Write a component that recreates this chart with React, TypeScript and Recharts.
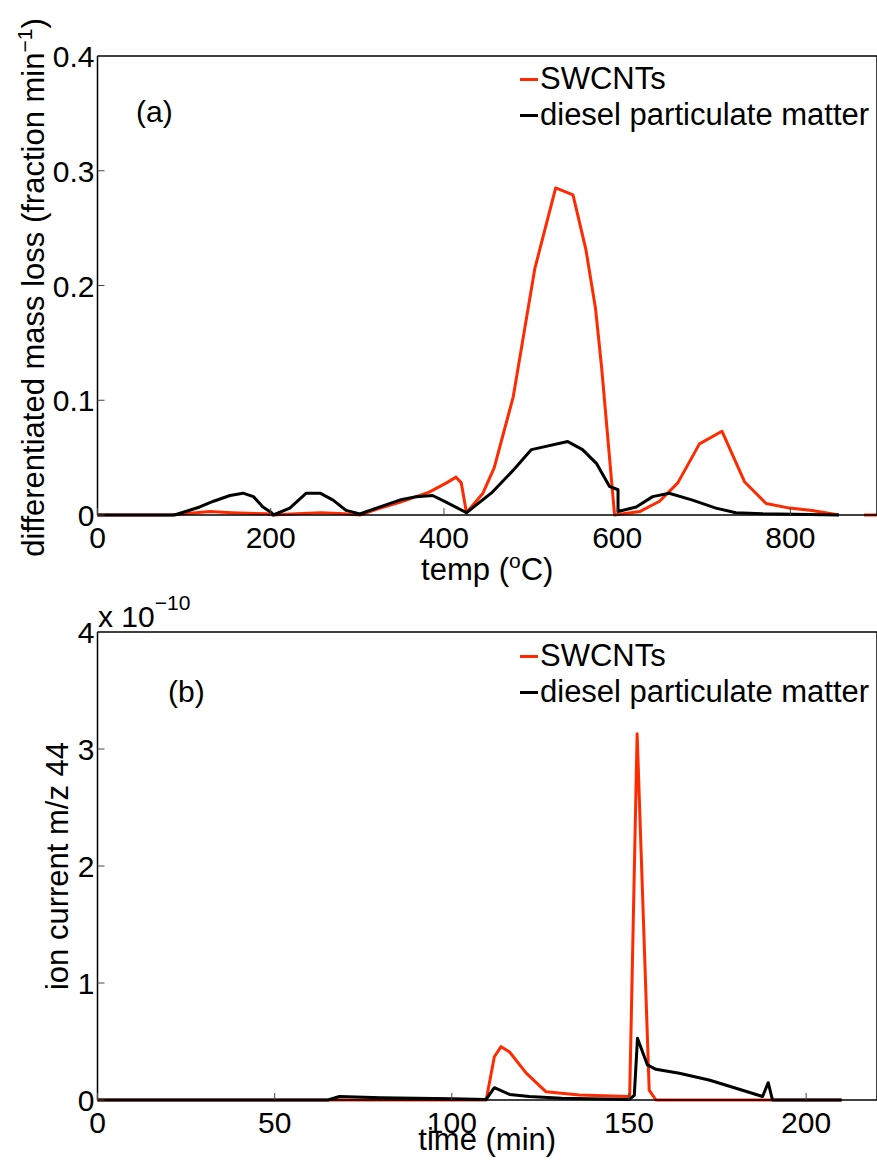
import React from "react";
import { LineChart, Line, XAxis, YAxis, Legend } from "recharts";

// panel (a): differentiated mass loss vs temperature
const tempSwcnt = [0, 85, 100, 130, 155, 195, 203, 230, 258, 285, 303, 322, 349, 368, 383, 403, 414, 420, 426, 445, 458, 480, 505, 529, 549, 564, 575, 582, 597, 626, 649, 670, 695, 721, 747, 772, 799, 825, 856, 870, 885, 900];
const lossSwcnt = [0, 0, 0.001, 0.003, 0.002, 0.001, 0, 0.001, 0.002, 0.001, 0, 0.005, 0.011, 0.016, 0.02, 0.028, 0.033, 0.028, 0.002, 0.019, 0.041, 0.103, 0.215, 0.285, 0.279, 0.231, 0.18, 0.129, 0, 0.003, 0.012, 0.028, 0.062, 0.073, 0.029, 0.01, 0.006, 0.004, 0, null, 0, 0];

const tempDiesel = [0, 83, 89, 118, 134, 153, 168, 180, 191, 201, 203, 222, 241, 257, 272, 287, 303, 322, 349, 368, 387, 403, 426, 456, 480, 501, 543, 560, 576, 591, 601, 601, 622, 641, 660, 687, 714, 737, 768, 856];
const lossDiesel = [0, 0, 0, 0.007, 0.012, 0.017, 0.019, 0.016, 0.007, 0.002, 0, 0.006, 0.019, 0.019, 0.013, 0.004, 0.001, 0.006, 0.013, 0.016, 0.017, 0.011, 0.002, 0.02, 0.039, 0.057, 0.064, 0.057, 0.045, 0.025, 0.022, 0.003, 0.007, 0.016, 0.019, 0.013, 0.006, 0.002, 0.001, 0];

// panel (b): ion current m/z 44 (x 10^-10) vs time
const timeSwcnt = [0, 109.7, 112, 113.9, 116.3, 121, 126.6, 136, 149.6, 150.2, 152.3, 155.7, 157.6, 210];
const ionSwcnt = [0, 0, 0.37, 0.456, 0.41, 0.23, 0.07, 0.043, 0.03, 0.04, 3.13, 0.085, 0, 0];

const timeDiesel = [0, 65, 68.3, 80, 100, 109.7, 112, 116.3, 121.9, 131, 150.1, 151.5, 152.4, 155.2, 157.6, 164.2, 172.6, 180.2, 187.7, 189.3, 190.5, 210];
const ionDiesel = [0, 0, 0.03, 0.02, 0.01, 0.005, 0.105, 0.048, 0.03, 0.015, 0.005, 0.04, 0.527, 0.3, 0.262, 0.228, 0.171, 0.1, 0.03, 0.148, 0, 0];

const tempTicks = [0, 200, 400, 600, 800];
const lossTicks = [0, 0.1, 0.2, 0.3, 0.4];
const timeTicks = [0, 50, 100, 150, 200];
const ionTicks = [0, 1, 2, 3, 4];

const RED = "#ff2a00";
const FONT = "'Liberation Sans', Arial, Helvetica, sans-serif";

const zip = (xs: number[], ys: (number | null)[]) => xs.map((x, i) => ({ x, y: ys[i] }));

const fmtLoss = (v: number) => (v === 0 ? "0" : v.toFixed(1));

function BottomTick({ x, y, payload, fmt }: any) {
  return (
    <g>
      <line x1={x} x2={x} y1={y} y2={y - 7} stroke="#444" />
      <text x={x} y={y + 33} textAnchor="middle" fontSize={30} fontFamily={FONT} fill="#000">
        {fmt ? fmt(payload.value) : payload.value}
      </text>
    </g>
  );
}

function LeftTick({ x, y, payload, fmt }: any) {
  return (
    <g>
      <line x1={x} x2={x + 7} y1={y} y2={y} stroke="#444" />
      <text x={x - 3} y={y + 11} textAnchor="end" fontSize={30} fontFamily={FONT} fill="#000">
        {fmt ? fmt(payload.value) : payload.value}
      </text>
    </g>
  );
}

function TopTick({ x, y }: any) {
  return <line x1={x} x2={x} y1={y} y2={y + 7} stroke="#444" />;
}

function RightTick({ x, y }: any) {
  return <line x1={x} x2={x - 7} y1={y} y2={y} stroke="#444" />;
}

function renderLegend(props: any) {
  const { payload } = props;
  return (
    <div style={{ fontFamily: FONT, fontSize: 31, color: "#000" }}>
      {(payload || []).map((entry: any) => (
        <div key={entry.value} style={{ display: "flex", alignItems: "center", height: 36, whiteSpace: "nowrap" }}>
          <span style={{ display: "inline-block", width: 18, height: 3, background: entry.color, marginRight: 2 }} />
          <span>{entry.value}</span>
        </div>
      ))}
    </div>
  );
}

const axisLine = { stroke: "#000", strokeWidth: 1.5 };

export default function App() {
  const topRed = zip(tempSwcnt, lossSwcnt);
  const topBlack = zip(tempDiesel, lossDiesel);
  const botRed = zip(timeSwcnt, ionSwcnt);
  const botBlack = zip(timeDiesel, ionDiesel);

  return (
    <div
      style={{
        position: "absolute",
        left: 0,
        top: 0,
        width: 877,
        height: 1165,
        overflow: "hidden",
        background: "#fff",
        fontFamily: FONT,
      }}
    >
      <div style={{ position: "absolute", left: 0, top: 0 }}>
        <LineChart width={878} height={600} margin={{ top: 55, right: 0, bottom: 0, left: 0 }}>
          <XAxis
            xAxisId="b"
            dataKey="x"
            type="number"
            domain={[0, 900]}
            ticks={tempTicks}
            height={85}
            axisLine={axisLine}
            tickLine={false}
            tickSize={0}
            tickMargin={0}
            tick={<BottomTick />}
            label={{
              content: (p: any) => {
                const vb = p.viewBox;
                return (
                  <text x={vb.x + vb.width / 2} y={vb.y + 65} textAnchor="middle" fontSize={31} fontFamily={FONT} fill="#000">
                    temp (
                    <tspan dy={-12} fontSize={21}>o</tspan>
                    <tspan dy={12}>C)</tspan>
                  </text>
                );
              },
            }}
          />
          <XAxis
            xAxisId="t"
            orientation="top"
            type="number"
            domain={[0, 900]}
            ticks={tempTicks}
            height={1}
            axisLine={axisLine}
            tickLine={false}
            tickSize={0}
            tickMargin={0}
            tick={<TopTick />}
          />
          <YAxis
            yAxisId="l"
            type="number"
            domain={[0, 0.4]}
            ticks={lossTicks}
            width={97.5}
            axisLine={axisLine}
            tickLine={false}
            tickSize={0}
            tickMargin={0}
            tick={<LeftTick fmt={fmtLoss} />}
            label={{
              content: (p: any) => {
                const vb = p.viewBox;
                const cx = vb.x + 44;
                const cy = vb.y + vb.height / 2 + 2;
                return (
                  <text x={cx} y={cy} transform={`rotate(-90 ${cx} ${cy})`} textAnchor="middle" fontSize={31} fontFamily={FONT} fill="#000">
                    differentiated mass loss (fraction min
                    <tspan dy={-12} fontSize={21}>−1</tspan>
                    <tspan dy={12}>)</tspan>
                  </text>
                );
              },
            }}
          />
          <YAxis
            yAxisId="r"
            orientation="right"
            type="number"
            domain={[0, 0.4]}
            ticks={lossTicks}
            width={1}
            axisLine={axisLine}
            tickLine={false}
            tickSize={0}
            tickMargin={0}
            tick={<RightTick />}
          />
          <Legend
            layout="horizontal"
            verticalAlign="middle"
            align="center"
            content={renderLegend}
            wrapperStyle={{ top: 61, left: 520, width: "auto" }}
          />
          <Line
            xAxisId="b"
            yAxisId="l"
            data={topRed}
            dataKey="y"
            name="SWCNTs"
            stroke={RED}
            strokeWidth={3}
            dot={false}
            isAnimationActive={false}
            strokeLinejoin="round"
          />
          <Line
            xAxisId="b"
            yAxisId="l"
            data={topBlack}
            dataKey="y"
            name="diesel particulate matter"
            stroke="#000"
            strokeWidth={3}
            dot={false}
            isAnimationActive={false}
            strokeLinejoin="round"
          />
        </LineChart>
      </div>

      <div style={{ position: "absolute", left: 0, top: 600 }}>
        <LineChart width={878} height={565} margin={{ top: 31, right: 0, bottom: 0, left: 0 }}>
          <XAxis
            xAxisId="b"
            dataKey="x"
            type="number"
            domain={[0, 220]}
            ticks={timeTicks}
            height={65}
            axisLine={axisLine}
            tickLine={false}
            tickSize={0}
            tickMargin={0}
            tick={<BottomTick />}
            label={{
              content: (p: any) => {
                const vb = p.viewBox;
                return (
                  <text x={vb.x + vb.width / 2} y={vb.y + 50} textAnchor="middle" fontSize={31} fontFamily={FONT} fill="#000">
                    time (min)
                  </text>
                );
              },
            }}
          />
          <XAxis
            xAxisId="t"
            orientation="top"
            type="number"
            domain={[0, 220]}
            ticks={timeTicks}
            height={1}
            axisLine={axisLine}
            tickLine={false}
            tickSize={0}
            tickMargin={0}
            tick={<TopTick />}
          />
          <YAxis
            yAxisId="l"
            type="number"
            domain={[0, 4]}
            ticks={ionTicks}
            width={97.5}
            axisLine={axisLine}
            tickLine={false}
            tickSize={0}
            tickMargin={0}
            tick={<LeftTick />}
            label={{
              content: (p: any) => {
                const vb = p.viewBox;
                const cx = vb.x + 68;
                const cy = vb.y + vb.height / 2;
                return (
                  <text x={cx} y={cy} transform={`rotate(-90 ${cx} ${cy})`} textAnchor="middle" fontSize={31} fontFamily={FONT} fill="#000">
                    ion current m/z 44
                  </text>
                );
              },
            }}
          />
          <YAxis
            yAxisId="r"
            orientation="right"
            type="number"
            domain={[0, 4]}
            ticks={ionTicks}
            width={1}
            axisLine={axisLine}
            tickLine={false}
            tickSize={0}
            tickMargin={0}
            tick={<RightTick />}
          />
          <Legend
            layout="horizontal"
            verticalAlign="middle"
            align="center"
            content={renderLegend}
            wrapperStyle={{ top: 38, left: 520, width: "auto" }}
          />
          <Line
            xAxisId="b"
            yAxisId="l"
            data={botRed}
            dataKey="y"
            name="SWCNTs"
            stroke={RED}
            strokeWidth={3}
            dot={false}
            isAnimationActive={false}
            strokeLinejoin="round"
          />
          <Line
            xAxisId="b"
            yAxisId="l"
            data={botBlack}
            dataKey="y"
            name="diesel particulate matter"
            stroke="#000"
            strokeWidth={3}
            dot={false}
            isAnimationActive={false}
            strokeLinejoin="round"
          />
        </LineChart>
      </div>

      <div style={{ position: "absolute", left: 136, top: 97, fontSize: 30, lineHeight: "30px" }}>(a)</div>
      <div style={{ position: "absolute", left: 168, top: 677, fontSize: 30, lineHeight: "30px" }}>(b)</div>
      <div style={{ position: "absolute", left: 98, top: 602, fontSize: 30, lineHeight: "30px", whiteSpace: "nowrap" }}>
        x 10
        <span style={{ position: "relative", top: -17, fontSize: 21 }}>−10</span>
      </div>
    </div>
  );
}
